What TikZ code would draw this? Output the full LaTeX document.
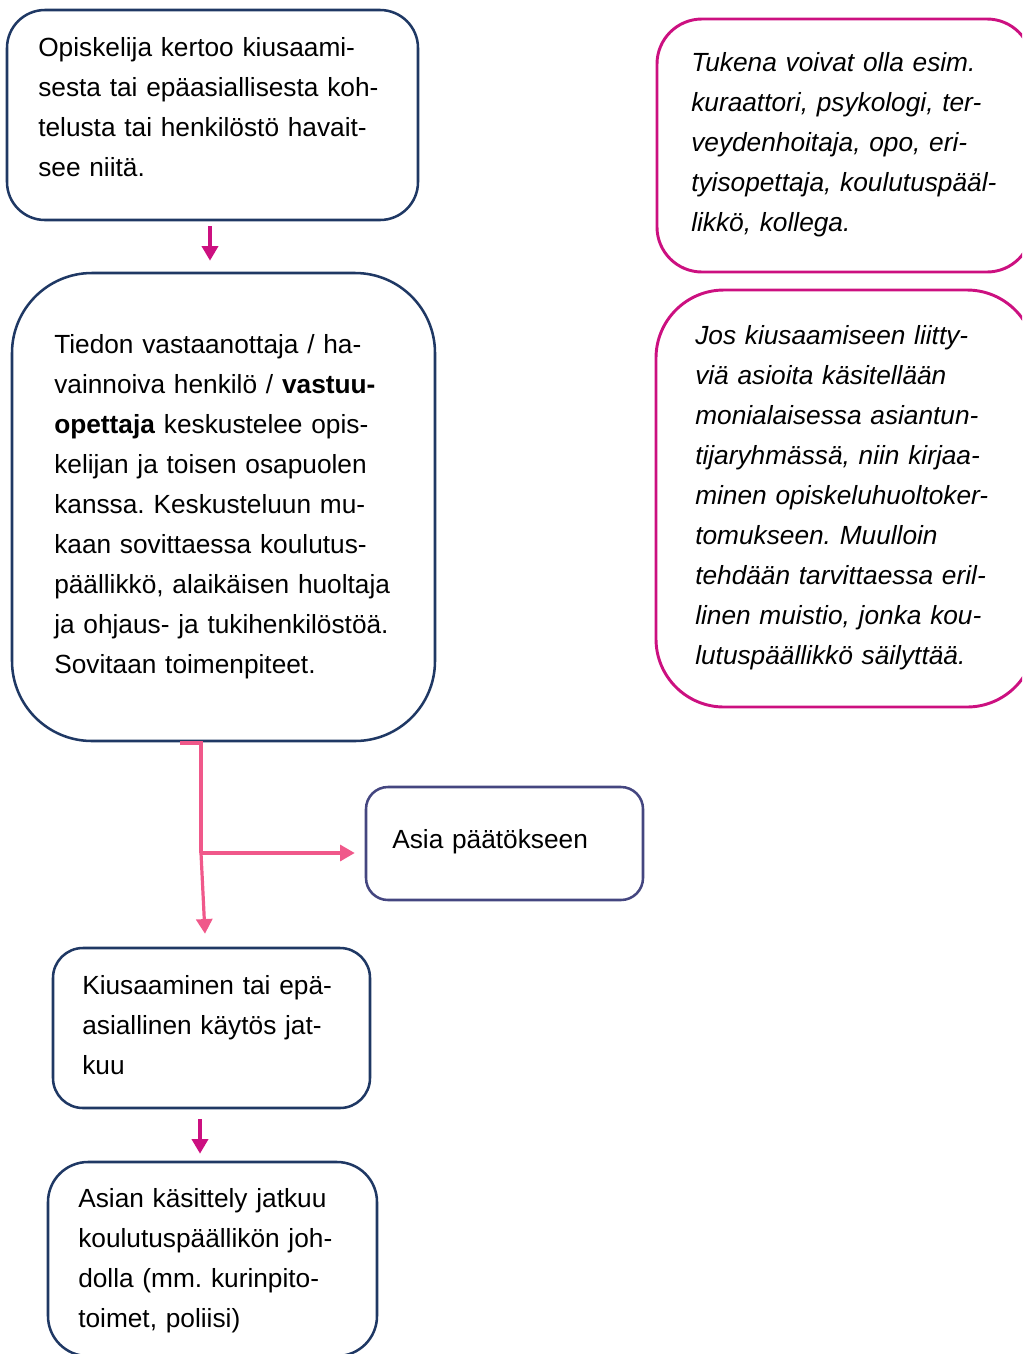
\documentclass[tikz,border=0pt]{standalone}
\usepackage{fontspec}
\setmainfont{Liberation Sans}
\usetikzlibrary{arrows.meta}
\definecolor{navy}{RGB}{31,56,100}
\definecolor{violetb}{RGB}{68,70,128}
\definecolor{mag}{RGB}{204,16,128}
\definecolor{pinkl}{RGB}{240,88,138}
\frenchspacing
\begin{document}
\begin{tikzpicture}[x=0.75pt,y=-0.75pt,
 box/.style={draw=navy,line width=1.9pt,inner sep=0pt},
 sidebox/.style={draw=mag,line width=2.2pt,inner sep=0pt},
 txt/.style={anchor=base west,inner sep=0pt,align=left,text width=360pt,font=\fontsize{19.7}{30}\selectfont},
 itxt/.style={txt,font=\fontsize{19.7}{30}\selectfont\itshape},
 marrow/.style={draw=mag,line width=3pt,-{Triangle[width=12pt,length=11pt]}},
 parrow/.style={draw=pinkl,line width=2.4pt,-{Triangle[width=12pt,length=11pt]}},
]
\useasboundingbox (0,0) rectangle (1022,1354);
\clip (0,0) rectangle (1022,1354);

% boxes
\node[box,minimum width=411*0.75pt,minimum height=210*0.75pt,rounded corners=38*0.75pt] (b1) at (212.5,115) {};
\node[box,minimum width=423*0.75pt,minimum height=468*0.75pt,rounded corners=80*0.75pt] (b2) at (223.5,507) {};
\node[box,draw=violetb,minimum width=277*0.75pt,minimum height=113*0.75pt,rounded corners=22*0.75pt] (b3) at (504.5,843.5) {};
\node[box,minimum width=317*0.75pt,minimum height=160*0.75pt,rounded corners=30*0.75pt] (b4) at (211.5,1028) {};
\node[box,minimum width=329*0.75pt,minimum height=194*0.75pt,rounded corners=40*0.75pt] (b5) at (212.5,1259) {};
\node[sidebox,minimum width=375*0.75pt,minimum height=253*0.75pt,rounded corners=45*0.75pt] (rA) at (844.5,145.5) {};
\node[sidebox,minimum width=379*0.75pt,minimum height=417*0.75pt,rounded corners=68*0.75pt] (rB) at (845.5,498.5) {};

% texts
\node[txt] (t1) at (38,56) {Opiskelija kertoo kiusaami-\\sesta tai epäasiallisesta koh-\\telusta tai henkilöstö havait-\\see niitä.};
\node[txt] (t2) at (54,353) {Tiedon vastaanottaja / ha-\\vainnoiva henkilö / \textbf{vastuu-}\\\textbf{opettaja} keskustelee opis-\\kelijan ja toisen osapuolen\\kanssa. Keskusteluun mu-\\kaan sovittaessa koulutus-\\päällikkö, alaikäisen huoltaja\\ja ohjaus- ja tukihenkilöstöä.\\Sovitaan toimenpiteet.};
\node[txt] (t3) at (392,848) {Asia päätökseen};
\node[txt] (t4) at (82,994) {Kiusaaminen tai epä-\\asiallinen käytös jat-\\kuu};
\node[txt] (t5) at (78,1207) {Asian käsittely jatkuu\\koulutuspäällikön joh-\\dolla (mm. kurinpito-\\toimet, poliisi)};
\node[itxt] (tA) at (691,71) {Tukena voivat olla esim.\\kuraattori, psykologi, ter-\\veydenhoitaja, opo, eri-\\tyisopettaja, koulutuspääl-\\likkö, kollega.};
\node[itxt] (tB) at (695,344) {Jos kiusaamiseen liitty-\\viä asioita käsitellään\\monialaisessa asiantun-\\tijaryhmässä, niin kirjaa-\\minen opiskeluhuoltoker-\\tomukseen. Muulloin\\tehdään tarvittaessa eril-\\linen muistio, jonka kou-\\lutuspäällikkö säilyttää.};

% connectors
\draw[marrow] ([xshift=-2.5*0.75pt,yshift=-5*0.75pt]b1.south) -- ([xshift=-13.5*0.75pt,yshift=11*0.75pt]b2.north);
\draw[marrow] ([xshift=-11.5*0.75pt,yshift=-10*0.75pt]b4.south) -- ([xshift=-12.5*0.75pt,yshift=7*0.75pt]b5.north);

\coordinate (s) at (180,743);
\coordinate (j) at (201,853);
\draw[draw=pinkl,line width=2.4pt] (s) -- (201,743) -- (j);
\draw[parrow,shorten >=10*0.75pt] (j) -- (j -| b3.west);
\draw[parrow] (j) -- ([xshift=-6.5*0.75pt,yshift=13*0.75pt]b4.north);
\end{tikzpicture}
\end{document}
